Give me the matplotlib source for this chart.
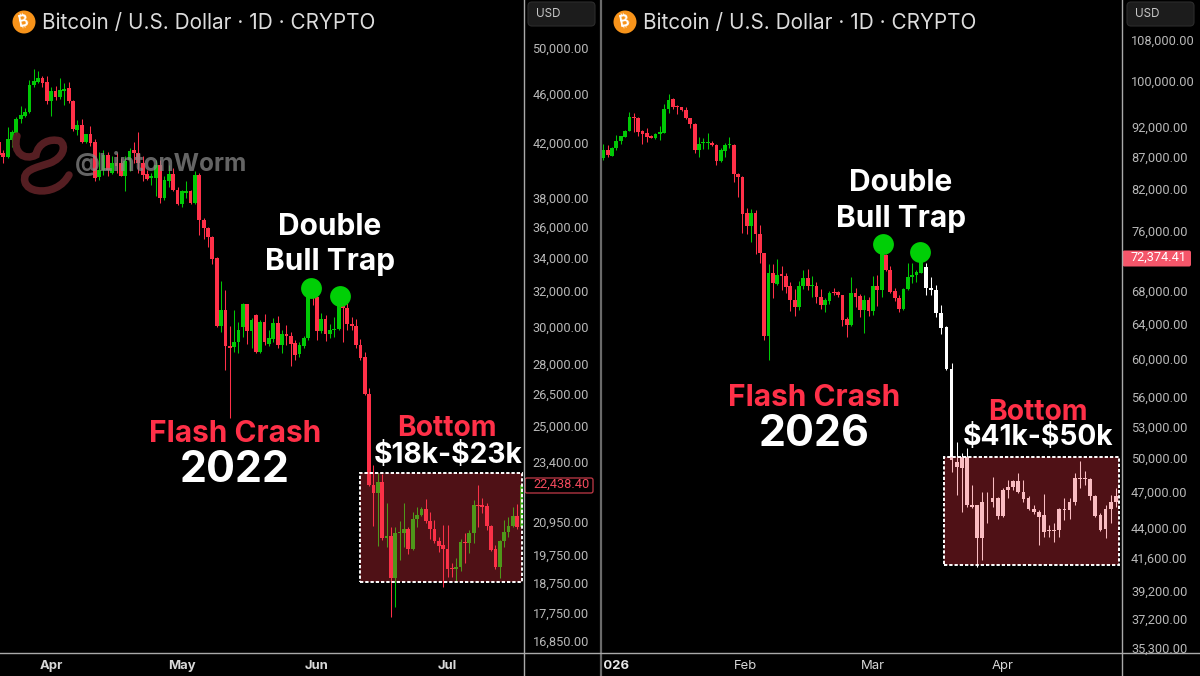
#!/usr/bin/env python3
"""Two BTC/USD daily candle charts side by side: 2022 drop next to the 2026 setup."""
import matplotlib
matplotlib.use("Agg")
import matplotlib.pyplot as plt
import numpy as np
from matplotlib.lines import Line2D
from matplotlib.patches import Circle, FancyBboxPatch, PathPatch, Rectangle
from matplotlib.path import Path
from matplotlib.ticker import FuncFormatter, NullLocator
from matplotlib.transforms import Bbox, blended_transform_factory

W, H = 1200, 676

# prices below are in thousands of USD
left_dir = ("RRGGGGGGGG" "RRGRGGRRGR" "GRRGGRGRRG" "GRRRRGGRGG" "RRGGRGRRRR" "RGRRGGGRGR"
            "GRGGRGRRRG" "GGRRGRGGGR" "RRRRRRRGRG" "RGGGRGGGRR" "RRRRRGGRGG" "RRRRRGGGGR" "G")
left_high = [42.23, 41.47, 43.29, 43.02, 44.07, 44.96, 44.77, 47.15, 48.09, 47.97,
             47.5, 47.5, 46.54, 46.64, 47.3, 46.88, 47.0, 45.46, 43.78, 43.89,
             42.7, 43.36, 42.29, 41.35, 41.47, 41.35, 40.98, 41.23, 40.86, 40.98,
             41.6, 42.09, 42.87, 40.98, 40.0, 39.76, 40.72, 40.72, 39.51, 40.31,
             40.11, 38.73, 38.54, 39.14, 38.54, 39.87, 39.76, 36.59, 36.03, 35.42,
             34.1, 32.58, 32.08, 30.04, 30.92, 30.24, 31.34, 31.28, 30.44, 30.69,
             30.35, 30.69, 29.81, 30.45, 30.56, 29.81, 30.08, 29.72, 29.26, 29.17,
             29.48, 32.28, 32.2, 31.78, 30.76, 30.64, 30.16, 30.55, 31.7, 31.49,
             31.31, 30.55, 30.39, 29.34, 28.64, 26.78, 23.27, 22.92, 22.89, 21.69,
             20.78, 20.78, 21.0, 21.69, 20.78, 21.35, 21.55, 21.55, 21.85, 21.35,
             21.04, 20.38, 20.84, 20.84, 19.43, 19.61, 20.31, 20.53, 20.65, 21.82,
             22.44, 21.89, 21.69, 20.84, 20.09, 20.28, 21.04, 21.15, 21.55, 21.66,
             22.44]
left_top = [42.09, 41.23, 42.29, 42.87, 43.88, 44.22, 44.42, 46.75, 47.03, 47.3,
            47.3, 46.96, 46.19, 46.19, 46.3, 46.41, 46.47, 45.38, 43.4, 43.4,
            42.68, 42.68, 42.06, 40.0, 41.09, 41.09, 40.49, 40.49, 40.49, 40.61,
            41.4, 41.43, 41.27, 40.49, 39.66, 39.51, 40.36, 40.36, 39.21, 39.71,
            39.71, 38.54, 38.43, 38.49, 38.47, 39.63, 39.63, 36.47, 35.97, 35.38,
            34.0, 30.92, 30.92, 28.95, 29.17, 29.81, 31.25, 31.24, 30.35, 30.65,
            30.23, 30.23, 29.39, 30.21, 30.21, 29.58, 29.58, 29.48, 29.11, 28.98,
            29.39, 32.08, 31.98, 31.69, 30.39, 30.39, 29.81, 29.86, 31.6, 31.21,
            31.02, 30.13, 30.03, 29.02, 28.37, 26.5, 22.44, 22.53, 22.53, 20.43,
            20.43, 20.53, 20.59, 20.68, 20.68, 21.07, 21.21, 21.46, 21.46, 21.0,
            20.69, 20.24, 20.09, 19.95, 19.26, 19.28, 20.2, 20.2, 20.55, 21.62,
            21.62, 21.6, 21.58, 20.82, 19.93, 20.22, 20.56, 20.82, 21.2, 21.17,
            22.44]
left_bottom = [41.09, 40.92, 40.92, 42.24, 42.77, 43.88, 44.16, 44.42, 46.68, 46.96,
               46.88, 45.38, 45.4, 45.69, 45.69, 46.24, 45.35, 43.08, 43.02, 42.09,
               42.09, 41.98, 39.39, 39.46, 40.0, 39.95, 39.76, 40.29, 39.56, 39.56,
               40.68, 41.27, 40.49, 39.63, 39.31, 39.39, 39.39, 37.98, 37.98, 39.14,
               38.54, 37.55, 37.55, 38.3, 37.6, 37.6, 36.47, 35.92, 35.38, 33.95,
               30.02, 30.02, 28.95, 28.86, 28.88, 29.17, 29.96, 29.77, 29.77, 28.61,
               28.61, 29.13, 29.07, 29.32, 29.0, 29.02, 29.48, 29.07, 28.49, 28.51,
               28.95, 29.39, 31.69, 29.76, 29.76, 29.59, 29.59, 29.78, 29.86, 31.02,
               30.11, 30.03, 29.0, 28.32, 26.5, 22.44, 22.09, 22.09, 20.34, 20.34,
               18.92, 18.92, 20.53, 20.53, 19.93, 19.93, 21.07, 21.21, 21.0, 20.68,
               20.22, 20.07, 19.95, 19.24, 19.21, 19.21, 19.28, 20.16, 20.16, 20.53,
               21.58, 21.55, 20.82, 19.91, 19.28, 19.31, 20.22, 20.56, 20.81, 20.78,
               20.78]
left_low = [40.72, 40.48, 40.85, 41.73, 42.63, 43.55, 44.02, 44.36, 46.54, 46.88,
            46.54, 45.13, 44.16, 45.46, 45.52, 45.03, 45.24, 42.97, 42.63, 42.02,
            42.02, 41.77, 39.14, 39.26, 39.63, 39.51, 39.71, 39.76, 39.51, 38.49,
            39.87, 40.49, 39.76, 39.14, 39.21, 38.89, 38.1, 37.63, 37.83, 38.78,
            38.43, 37.49, 37.33, 37.95, 37.55, 37.55, 35.49, 35.2, 34.73, 33.65,
            29.98, 29.72, 27.7, 25.36, 28.64, 28.55, 29.45, 29.03, 28.82, 28.55,
            28.59, 29.0, 28.95, 29.17, 28.82, 28.59, 29.0, 27.91, 28.21, 28.38,
            28.82, 29.26, 31.18, 29.26, 29.63, 29.22, 29.35, 29.45, 29.81, 29.17,
            29.81, 29.81, 28.82, 28.21, 26.45, 22.37, 20.81, 20.06, 20.28, 20.03,
            17.6, 17.94, 19.55, 20.03, 19.77, 19.91, 20.78, 21.17, 20.93, 20.31,
            20.16, 19.85, 18.61, 18.96, 18.96, 18.78, 19.17, 19.43, 19.79, 20.16,
            20.78, 21.3, 20.65, 19.88, 19.21, 18.9, 20.03, 20.4, 20.78, 20.68,
            20.75]

# W = the projected candles, drawn white
right_dir = ("GRGGGGGRRR" "RRGGGGRRRR" "RRGGGRRGGG" "RRRRGRRRGR" "GRRRRGGRGR"
             "RGGRRRRGRR" "GRGRGRRRRG" "GGGG" + "W" * 38)
right_high = [89.08, 88.93, 88.55, 90.56, 90.4, 91.5, 94.43, 94.25, 93.56, 91.5,
              91.68, 90.56, 90.84, 92.14, 95.86, 97.65, 96.95, 95.65, 95.41, 95.3,
              93.5, 92.54, 90.3, 90.02, 90.84, 89.57, 89.03, 88.38, 89.18, 90.3,
              89.03, 84.4, 83.96, 79.14, 79.0, 78.9, 76.7, 72.94, 71.44, 71.44,
              72.05, 71.18, 70.22, 69.1, 68.19, 69.23, 70.65, 70.74, 69.87, 69.15,
              68.19, 67.07, 68.02, 68.31, 68.02, 67.48, 64.83, 69.77, 68.31, 67.6,
              67.48, 67.27, 69.87, 70.0, 73.5, 72.72, 71.18, 68.31, 67.48, 68.31,
              71.53, 71.53, 70.65, 72.85, 71.53, 69.77, 68.72, 66.2, 63.74, 59.58,
              51.52, 50.43, 50.9, 47.57, 45.86, 47.0, 47.0, 48.31, 46.56, 47.34,
              48.01, 48.01, 48.67, 48.01, 46.62, 45.86, 45.44, 46.77, 44.2, 44.34,
              45.63, 46.42, 46.42, 48.61, 49.74, 48.85, 48.16, 46.71, 45.16, 45.86,
              46.71, 47.29]
right_top = [88.1, 88.15, 88.5, 89.62, 90.35, 91.28, 93.56, 93.67, 93.44, 91.18,
             90.84, 90.4, 90.68, 91.04, 95.0, 96.65, 96.72, 95.53, 95.3, 94.88,
             93.39, 92.42, 89.08, 89.4, 89.4, 89.29, 88.93, 88.1, 88.93, 89.08,
             88.98, 84.3, 83.85, 78.42, 78.42, 78.42, 75.5, 72.9, 70.27, 70.27,
             70.05, 70.1, 69.9, 68.6, 66.86, 68.6, 69.57, 69.57, 68.72, 68.64,
             67.23, 66.86, 67.77, 67.9, 67.9, 67.44, 64.52, 67.77, 67.77, 67.35,
             66.86, 66.86, 68.64, 68.64, 73.3, 72.63, 70.65, 68.0, 67.07, 68.22,
             69.77, 70.0, 70.35, 71.74, 71.0, 68.4, 68.1, 65.32, 63.66, 58.88,
             49.66, 50.11, 50.11, 45.86, 45.86, 46.08, 46.13, 46.42, 46.42, 47.14,
             47.4, 47.92, 47.92, 47.0, 46.42, 45.52, 45.25, 45.0, 43.8, 43.8,
             45.5, 45.5, 46.08, 48.22, 48.16, 48.16, 48.1, 46.65, 45.02, 45.5,
             46.13, 46.62]
right_bottom = [86.87, 87.25, 87.2, 88.43, 89.58, 90.3, 91.23, 93.44, 91.13, 90.78,
                90.3, 90.12, 90.07, 90.68, 90.84, 95.0, 95.3, 95.3, 94.83, 93.39,
                92.37, 88.1, 88.1, 89.24, 89.24, 88.93, 86.35, 86.3, 88.0, 88.93,
                84.3, 83.85, 78.3, 76.64, 76.6, 75.5, 72.85, 62.57, 62.57, 68.98,
                68.93, 69.9, 68.5, 66.86, 65.96, 65.96, 68.6, 68.6, 68.64, 67.2,
                66.21, 66.21, 66.74, 67.77, 67.44, 64.44, 63.82, 63.82, 67.27, 65.64,
                65.64, 65.55, 65.55, 68.1, 68.1, 70.65, 67.9, 67.07, 65.72, 65.72,
                68.22, 69.7, 70.0, 70.3, 68.4, 68.1, 65.32, 63.46, 58.95, 49.81,
                49.15, 49.06, 45.86, 45.72, 43.18, 43.18, 46.08, 46.08, 44.97, 44.97,
                47.14, 47.4, 47.0, 46.34, 45.52, 45.25, 44.88, 43.66, 43.72, 43.72,
                43.8, 45.41, 45.41, 46.08, 48.07, 48.07, 46.65, 44.94, 43.8, 43.85,
                45.5, 46.13]
right_low = [86.5, 86.93, 87.14, 88.1, 89.08, 90.25, 91.18, 91.13, 90.45, 89.08,
             89.46, 90.02, 89.9, 89.79, 90.84, 94.35, 94.95, 94.08, 94.7, 93.22,
             91.8, 87.67, 86.93, 88.26, 88.26, 88.8, 85.7, 86.23, 87.03, 88.38,
             83.1, 80.85, 75.6, 75.5, 74.35, 72.75, 71.6, 62.11, 59.87, 67.14,
             68.7, 68.1, 67.77, 65.55, 64.92, 65.64, 68.3, 68.1, 67.2, 66.53,
             65.72, 65.44, 66.38, 67.48, 67.2, 63.74, 62.42, 63.74, 65.96, 64.83,
             62.89, 64.92, 65.03, 66.13, 67.2, 70.56, 67.7, 66.77, 65.44, 65.64,
             68.1, 68.95, 69.15, 70.22, 67.48, 67.48, 64.76, 62.8, 58.78, 48.76,
             46.71, 45.3, 45.72, 45.58, 40.94, 41.45, 44.39, 45.72, 44.67, 44.83,
             46.42, 47.14, 46.9, 46.13, 45.44, 45.11, 42.61, 43.22, 43.22, 42.87,
             43.27, 44.61, 44.67, 45.86, 47.29, 47.57, 46.28, 44.83, 43.74, 43.13,
             44.34, 45.72]

left_ticks = [50000, 46000, 42000, 38000, 36000, 34000, 32000, 30000, 28000, 26500,
              25000, 23400, 20950, 19750, 18750, 17750, 16850]
right_ticks = [108000, 100000, 92000, 87000, 82000, 76000, 68000, 64000, 60000, 56000,
               53000, 50000, 47000, 44000, 41600, 39200, 37200, 35300]
left_months = ["Apr", "May", "Jun", "Jul"]
left_month_pos = [12, 42, 73, 103]
right_months = ["2026", "Feb", "Mar", "Apr"]
right_month_pos = [2.1, 32.8, 62, 91.9]
left_last, right_last = 22438.40, 72374.41
left_zone = (22930, 18770)
right_zone = (50110, 41070)

RED = "#ff3048"
GREEN = "#00c805"
TRAP_GREEN = "#00cf06"
AXIS_LINE = "#a9a9a9"
TICK_TEXT = "#b8b8b8"
ZONE_RED = "#f23645"
TICK_FONT = "Roboto"

plt.rcParams["font.family"] = ["Inter", "DejaVu Sans"]


def px(x, y):
    return x / W, 1 - y / H


def make_axes(fig, x0, x1, xlim, ylim, ticks):
    ax = fig.add_axes([x0 / W, 1 - 652 / H, (x1 - x0) / W, 652 / H])
    ax.set_facecolor("black")
    ax.set_yscale("log")
    ax.set_xlim(*xlim)
    ax.set_ylim(*ylim)
    for s in ax.spines.values():
        s.set_visible(False)
    ax.yaxis.tick_right()
    ax.yaxis.set_minor_locator(NullLocator())
    ax.set_yticks(ticks)
    ax.yaxis.set_major_formatter(FuncFormatter(lambda v, _: f"{v:,.2f}"))
    ax.tick_params(axis="y", length=0, pad=6.5, labelsize=9.2, labelcolor=TICK_TEXT, labelfontfamily=TICK_FONT)
    ax.tick_params(axis="x", length=0, pad=6, labelsize=9.4, labelcolor="#d8d8d8")
    return ax


def draw_candles(ax, x, high, top, bottom, low, directions):
    high, top, bottom, low = [np.array(a) * 1000 for a in (high, top, bottom, low)]
    palette = {"R": RED, "G": GREEN, "W": "white"}
    colors = [palette[d] for d in directions]
    ax.vlines(x, low, high, colors=colors, linewidth=0.75, zorder=2)
    ax.bar(x, top - bottom, bottom=bottom, width=0.86, color=colors, linewidth=0, zorder=3)


def draw_zone(ax, x0, x1, zone):
    top, bottom = zone
    ax.add_patch(Rectangle((x0, bottom), x1 - x0, top - bottom, facecolor=ZONE_RED,
                           alpha=0.33, edgecolor="none", zorder=4))
    ax.add_patch(Rectangle((x0, bottom), x1 - x0, top - bottom, fill=False, edgecolor="white",
                           linewidth=1.4, linestyle=(0, (1.7, 1.0)), zorder=5))


def header(fig, x_logo, x_usd):
    fig.add_artist(Circle((x_logo, H - 22), 11.5, transform=None, facecolor="#f7931a", edgecolor="none"))
    fig.text(*px(x_logo, 22.5), "₿", color="white", fontsize=11, fontweight="bold", rotation=12,
             ha="center", va="center")
    fig.text(*px(x_logo + 18, 23), "Bitcoin / U.S. Dollar · 1D · CRYPTO", color="#dcdcdc",
             fontsize=14.9, ha="left", va="center")
    fig.add_artist(FancyBboxPatch((x_usd, H - 26), 67, 24, boxstyle="round,pad=0,rounding_size=4",
                                  transform=None, facecolor="#1c1c1c", edgecolor="#2c2c2c", linewidth=0.8))
    fig.text(*px(x_usd + 8, 14), "USD", color="#c8c8c8", fontsize=8.4, ha="left", va="center")


def label(fig, x, y, text, color="white", size=21.5):
    fig.text(*px(x, y), text, color=color, fontsize=size, fontweight="bold", ha="center",
             va="center", zorder=6)


def price_tag(fig, x0, x1, y0, y1, face, edge):
    # behind the axes in draw order, it lies in the free strip right of them
    fig.add_artist(FancyBboxPatch((x0, H - y1), x1 - x0, y1 - y0, boxstyle="round,pad=0,rounding_size=2",
                                  transform=None, facecolor=face, edgecolor=edge, linewidth=0.9, zorder=-1))


fig = plt.figure(figsize=(W / 100, H / 100), dpi=100, facecolor="black")

# left chart, 2022
ax_l = make_axes(fig, 0, 523.5, (0.241, 120.45), (16508, 54603), left_ticks)
ax_l.patch.set_visible(False)
left_x = np.arange(len(left_high))
draw_candles(ax_l, left_x, left_high, left_top, left_bottom, left_low, left_dir)
draw_zone(ax_l, 82.9, 120.03, left_zone)
ax_l.scatter([71.65, 78.4], [32190, 31740], s=225, color=TRAP_GREEN, linewidths=0, zorder=6)
ax_l.set_xticks(left_month_pos, left_months, fontweight="bold")

# right chart, 2026: the projected candles sit a bit wider apart than the daily ones
ax_r = make_axes(fig, 602, 1122, (-0.3, 119.27), (35000, 116110), right_ticks)
ax_r.patch.set_visible(False)
right_i = np.arange(len(right_high))
right_x = np.where(right_i <= 73, right_i, 73 + (right_i - 73) * 1.18)
draw_candles(ax_r, right_x, right_high, right_top, right_bottom, right_low, right_dir)
draw_zone(ax_r, 78.34, 118.6, right_zone)
ax_r.scatter([64.3, 72.9], [74110, 73070], s=225, color=TRAP_GREEN, linewidths=0, zorder=6)
ax_r.set_xticks(right_month_pos, right_months)
first = ax_r.get_xticklabels()[0]
first.set_fontweight("bold")
first.set_color("#e8e8e8")
first.set_clip_on(True)
first.set_clip_box(Bbox([[604, 0], [1122, 40]]))

# last price tags
price_tag(fig, 525, 593, 478, 493, "black", "#c43a48")
tr_l = blended_transform_factory(ax_l.transAxes, ax_l.transData)
ax_l.text(1.0 + 9.5 / 523.5, left_last, f"{left_last:,.2f}", transform=tr_l, color="#f2495c", fontsize=9.2,
          family=TICK_FONT, ha="left", va="center", clip_on=False, zorder=8)
price_tag(fig, 1122.5, 1191, 250.5, 266.5, "#f4566a", "none")
tr_r = blended_transform_factory(ax_r.transAxes, ax_r.transData)
ax_r.text(1.0 + 8.5 / 520, right_last, f"{right_last:,.2f}", transform=tr_r, color="white", fontsize=9.2,
          family=TICK_FONT, ha="left", va="center", clip_on=False, zorder=8)

# frame lines
for x, col, lw in [(523.7, AXIS_LINE, 1.0), (601, "#6a6a6a", 1.6), (1122, AXIS_LINE, 1.0)]:
    fig.add_artist(Line2D([x / W, x / W], [0, 1], color=col, linewidth=lw))
fig.add_artist(Line2D([0, 1], [1 - 652.5 / H] * 2, color=AXIS_LINE, linewidth=1.0))

header(fig, 24, 528)
header(fig, 625, 1127)

# watermark
worm = Path([(17, H - 136), (12, H - 153), (25, H - 161), (36, H - 155),
             (38, H - 143), (50, H - 138), (60, H - 141),
             (67, H - 146), (63, H - 158), (50, H - 163),
             (35, H - 168), (22, H - 170), (25, H - 182),
             (28, H - 192), (45, H - 193), (55, H - 188),
             (62, H - 185), (66, H - 180), (69, H - 175)],
            [Path.MOVETO] + [Path.CURVE4] * 18)
fig.add_artist(PathPatch(worm, transform=None, fill=False, edgecolor="#5a2024", linewidth=5.4,
                         capstyle="round", alpha=0.95, zorder=4))
fig.text(*px(160.5, 163.5), "@LintonWorm", color="#8c8c8c", alpha=0.72, fontsize=17.6, fontweight="bold",
         ha="center", va="center", zorder=4)

# annotations, left
label(fig, 330, 227, "Double")
label(fig, 330, 262, "Bull Trap")
label(fig, 235, 434, "Flash Crash", RED)
label(fig, 235, 470, "2022", size=31)
label(fig, 447, 429, "Bottom", RED, size=20.3)
label(fig, 448, 456, r"\$18k-\$23k", size=20.3)

# annotations, right
label(fig, 901, 183, "Double")
label(fig, 901, 219, "Bull Trap")
label(fig, 814, 398, "Flash Crash", RED)
label(fig, 814, 435, "2026", size=31)
label(fig, 1038, 412, "Bottom", RED, size=20.3)
label(fig, 1038, 438, r"\$41k-\$50k", size=20.3)

fig.savefig("out.png", dpi=100, facecolor="black")
